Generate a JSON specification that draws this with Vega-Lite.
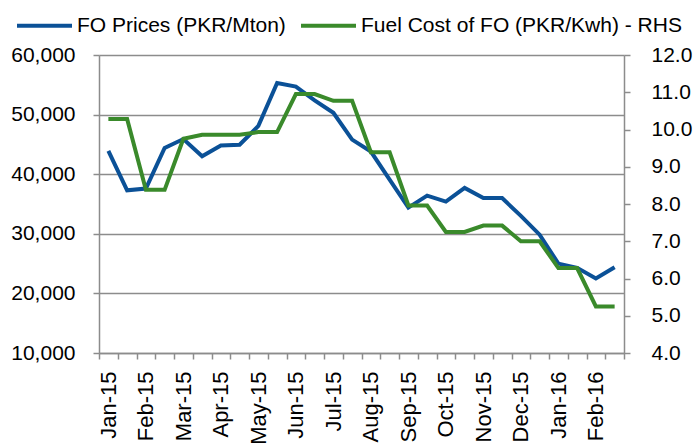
{
  "$schema": "https://vega.github.io/schema/vega-lite/v6.json",
  "width": 525,
  "height": 298,
  "autosize": {"type": "none"},
  "padding": {"left": 99, "top": 55, "right": 70, "bottom": 90},
  "background": "white",
  "config": {
    "view": {"stroke": null},
    "font": "Liberation Sans",
    "axis": {"labelFont": "Liberation Sans", "labelColor": "#000000", "domainColor": "#8c8c8c", "tickColor": "#8c8c8c", "gridColor": "#8c8c8c", "domainWidth": 1.5, "tickWidth": 1.5, "gridWidth": 1.5}
  },
  "data": {
    "values": [
      {"p": "Jan-15a", "s": "FO Prices (PKR/Mton)", "v": 43900},
      {"p": "Jan-15b", "s": "FO Prices (PKR/Mton)", "v": 37300},
      {"p": "Feb-15a", "s": "FO Prices (PKR/Mton)", "v": 37600},
      {"p": "Feb-15b", "s": "FO Prices (PKR/Mton)", "v": 44400},
      {"p": "Mar-15a", "s": "FO Prices (PKR/Mton)", "v": 45900},
      {"p": "Mar-15b", "s": "FO Prices (PKR/Mton)", "v": 43000},
      {"p": "Apr-15a", "s": "FO Prices (PKR/Mton)", "v": 44800},
      {"p": "Apr-15b", "s": "FO Prices (PKR/Mton)", "v": 44950},
      {"p": "May-15a", "s": "FO Prices (PKR/Mton)", "v": 48100},
      {"p": "May-15b", "s": "FO Prices (PKR/Mton)", "v": 55300},
      {"p": "Jun-15a", "s": "FO Prices (PKR/Mton)", "v": 54700},
      {"p": "Jun-15b", "s": "FO Prices (PKR/Mton)", "v": 52400},
      {"p": "Jul-15a", "s": "FO Prices (PKR/Mton)", "v": 50300},
      {"p": "Jul-15b", "s": "FO Prices (PKR/Mton)", "v": 45800},
      {"p": "Aug-15a", "s": "FO Prices (PKR/Mton)", "v": 43800},
      {"p": "Aug-15b", "s": "FO Prices (PKR/Mton)", "v": 39100},
      {"p": "Sep-15a", "s": "FO Prices (PKR/Mton)", "v": 34400},
      {"p": "Sep-15b", "s": "FO Prices (PKR/Mton)", "v": 36400},
      {"p": "Oct-15a", "s": "FO Prices (PKR/Mton)", "v": 35400},
      {"p": "Oct-15b", "s": "FO Prices (PKR/Mton)", "v": 37700},
      {"p": "Nov-15a", "s": "FO Prices (PKR/Mton)", "v": 36000},
      {"p": "Nov-15b", "s": "FO Prices (PKR/Mton)", "v": 36000},
      {"p": "Dec-15a", "s": "FO Prices (PKR/Mton)", "v": 33000},
      {"p": "Dec-15b", "s": "FO Prices (PKR/Mton)", "v": 29850},
      {"p": "Jan-16a", "s": "FO Prices (PKR/Mton)", "v": 25000},
      {"p": "Jan-16b", "s": "FO Prices (PKR/Mton)", "v": 24300},
      {"p": "Feb-16a", "s": "FO Prices (PKR/Mton)", "v": 22500},
      {"p": "Feb-16b", "s": "FO Prices (PKR/Mton)", "v": 24400},
      {"p": "Jan-15a", "s": "Fuel Cost of FO (PKR/Kwh) - RHS", "v": 10.28},
      {"p": "Jan-15b", "s": "Fuel Cost of FO (PKR/Kwh) - RHS", "v": 10.28},
      {"p": "Feb-15a", "s": "Fuel Cost of FO (PKR/Kwh) - RHS", "v": 8.38},
      {"p": "Feb-15b", "s": "Fuel Cost of FO (PKR/Kwh) - RHS", "v": 8.38},
      {"p": "Mar-15a", "s": "Fuel Cost of FO (PKR/Kwh) - RHS", "v": 9.75},
      {"p": "Mar-15b", "s": "Fuel Cost of FO (PKR/Kwh) - RHS", "v": 9.86},
      {"p": "Apr-15a", "s": "Fuel Cost of FO (PKR/Kwh) - RHS", "v": 9.86},
      {"p": "Apr-15b", "s": "Fuel Cost of FO (PKR/Kwh) - RHS", "v": 9.86},
      {"p": "May-15a", "s": "Fuel Cost of FO (PKR/Kwh) - RHS", "v": 9.93},
      {"p": "May-15b", "s": "Fuel Cost of FO (PKR/Kwh) - RHS", "v": 9.93},
      {"p": "Jun-15a", "s": "Fuel Cost of FO (PKR/Kwh) - RHS", "v": 10.95},
      {"p": "Jun-15b", "s": "Fuel Cost of FO (PKR/Kwh) - RHS", "v": 10.95},
      {"p": "Jul-15a", "s": "Fuel Cost of FO (PKR/Kwh) - RHS", "v": 10.77},
      {"p": "Jul-15b", "s": "Fuel Cost of FO (PKR/Kwh) - RHS", "v": 10.77},
      {"p": "Aug-15a", "s": "Fuel Cost of FO (PKR/Kwh) - RHS", "v": 9.39},
      {"p": "Aug-15b", "s": "Fuel Cost of FO (PKR/Kwh) - RHS", "v": 9.39},
      {"p": "Sep-15a", "s": "Fuel Cost of FO (PKR/Kwh) - RHS", "v": 7.96},
      {"p": "Sep-15b", "s": "Fuel Cost of FO (PKR/Kwh) - RHS", "v": 7.96},
      {"p": "Oct-15a", "s": "Fuel Cost of FO (PKR/Kwh) - RHS", "v": 7.25},
      {"p": "Oct-15b", "s": "Fuel Cost of FO (PKR/Kwh) - RHS", "v": 7.25},
      {"p": "Nov-15a", "s": "Fuel Cost of FO (PKR/Kwh) - RHS", "v": 7.42},
      {"p": "Nov-15b", "s": "Fuel Cost of FO (PKR/Kwh) - RHS", "v": 7.42},
      {"p": "Dec-15a", "s": "Fuel Cost of FO (PKR/Kwh) - RHS", "v": 7.0},
      {"p": "Dec-15b", "s": "Fuel Cost of FO (PKR/Kwh) - RHS", "v": 7.0},
      {"p": "Jan-16a", "s": "Fuel Cost of FO (PKR/Kwh) - RHS", "v": 6.28},
      {"p": "Jan-16b", "s": "Fuel Cost of FO (PKR/Kwh) - RHS", "v": 6.28},
      {"p": "Feb-16a", "s": "Fuel Cost of FO (PKR/Kwh) - RHS", "v": 5.25},
      {"p": "Feb-16b", "s": "Fuel Cost of FO (PKR/Kwh) - RHS", "v": 5.25}
    ]
  },
  "layer": [
    {
      "transform": [{"filter": "datum.s == 'FO Prices (PKR/Mton)'"}],
      "mark": {"type": "line", "strokeWidth": 4},
      "encoding": {
        "x": {
          "field": "p",
          "type": "ordinal",
          "sort": null,
          "scale": {"paddingInner": 0, "paddingOuter": 0},
          "axis": {
            "title": null,
            "labelAngle": -90,
            "labelFontSize": 22,
            "labelPadding": 12,
            "labelOverlap": false,
            "labelBound": false,
            "tickSize": 6,
            "tickBand": "extent",
            "grid": false,
            "labelExpr": "isString(datum.value) && substring(datum.value, 6, 7) == 'a' ? substring(datum.value, 0, 6) : ''"
          }
        },
        "y": {
          "field": "v",
          "type": "quantitative",
          "scale": {"domain": [10000, 60000], "nice": false, "zero": false},
          "axis": {
            "title": null,
            "values": [10000, 20000, 30000, 40000, 50000, 60000],
            "format": ",.0f",
            "labelFontSize": 21,
            "labelPadding": 18,
            "labelOverlap": false,
            "tickSize": 6,
            "grid": true
          }
        },
        "color": {
          "field": "s",
          "type": "nominal",
          "scale": {
            "domain": ["FO Prices (PKR/Mton)", "Fuel Cost of FO (PKR/Kwh) - RHS"],
            "range": ["#0B5197", "#3A8A2B"]
          },
          "legend": {
            "title": null,
            "orient": "none",
            "direction": "horizontal",
            "legendX": -84,
            "legendY": -59,
            "padding": 0,
            "symbolType": "stroke",
            "symbolSize": 3025,
            "symbolStrokeWidth": 4,
            "labelFontSize": 21,
            "labelColor": "#000000",
            "labelOffset": 3,
            "columnPadding": 7,
            "labelLimit": 500
          }
        }
      }
    },
    {
      "transform": [{"filter": "datum.s != 'FO Prices (PKR/Mton)'"}],
      "mark": {"type": "line", "strokeWidth": 4},
      "encoding": {
        "x": {"field": "p", "type": "ordinal", "sort": null},
        "y": {
          "field": "v",
          "type": "quantitative",
          "scale": {"domain": [4, 12], "nice": false, "zero": false},
          "axis": {
            "title": null,
            "orient": "right",
            "values": [4, 5, 6, 7, 8, 9, 10, 11, 12],
            "format": ".1f",
            "labelFontSize": 21,
            "labelPadding": 21,
            "labelOverlap": false,
            "tickSize": 6,
            "grid": false
          }
        },
        "color": {"field": "s", "type": "nominal"}
      }
    }
  ],
  "resolve": {"scale": {"y": "independent"}}
}
